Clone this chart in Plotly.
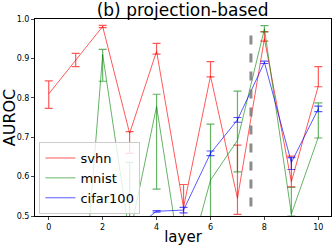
import plotly.graph_objects as go

layers = [0, 1, 2, 3, 4, 5, 6, 7, 8, 9, 10]

svhn = [0.810, 0.896, 0.981, 0.710, 0.918, 0.522, 0.855, 0.545, 0.950, 0.587, 0.830]
svhn_plus = [0.033, 0.017, 0.003, 0.004, 0.020, 0.058, 0.037, 0.135, 0.018, 0.065, 0.049]
svhn_minus = [0.037, 0.017, 0.003, 0.051, 0.007, 0.030, 0.002, 0.041, 0.006, 0.013, 0.002]

mnist = [0.300, 0.050, 0.910, 0.450, 0.778, 0.340, 0.591, 0.692, 0.975, 0.505, 0.700]
mnist_plus = [0.030, 0.030, 0.013, 0.186, 0.031, 0.030, 0.142, 0.125, 0.008, 0.068, 0.087]
mnist_minus = [0.030, 0.030, 0.068, 0.030, 0.210, 0.030, 0.120, 0.080, 0.008, 0.005, 0.002]

cifar100 = [0.450, 0.430, 0.470, 0.460, 0.512, 0.515, 0.659, 0.744, 0.890, 0.636, 0.772]
cifar_plus = [0.005, 0.005, 0.005, 0.005, 0.002, 0.007, 0.006, 0.006, 0.003, 0.012, 0.007]
cifar_minus = [0.005, 0.005, 0.005, 0.005, 0.002, 0.007, 0.006, 0.006, 0.003, 0.018, 0.007]

series = [
    ("svhn", svhn, svhn_plus, svhn_minus, "rgba(255,0,0,0.65)"),
    ("mnist", mnist, mnist_plus, mnist_minus, "rgba(0,128,0,0.6)"),
    ("cifar100", cifar100, cifar_plus, cifar_minus, "rgba(0,0,255,0.65)"),
]

split_x = [7.5, 7.5]
split_y = [0.524, 0.974]

fig = go.Figure()
for name, vals, ep, em, col in series:
    fig.add_trace(go.Scatter(
        x=layers, y=vals, mode="lines", name=name,
        line=dict(color=col, width=1),
        error_y=dict(type="data", symmetric=False, array=ep, arrayminus=em,
                     color=col, thickness=1.2, width=4),
    ))

fig.add_trace(go.Scatter(
    x=split_x, y=split_y, mode="lines", showlegend=False,
    line=dict(color="rgba(128,128,128,0.9)", width=3, dash="dash"),
))

fig.update_layout(
    width=332, height=246,
    margin=dict(l=35, r=1, t=19, b=30),
    paper_bgcolor="white", plot_bgcolor="white",
    font=dict(family="DejaVu Sans", color="black"),
    title=dict(text="(b) projection-based", x=0.55, xanchor="center",
               yref="container", y=0.96, yanchor="middle", font=dict(size=17)),
    showlegend=True,
    legend=dict(x=0.015, y=0.01, xanchor="left", yanchor="bottom",
                bgcolor="rgba(255,255,255,0.8)", bordercolor="#cccccc",
                borderwidth=1, font=dict(size=13),
                tracegroupgap=0, itemwidth=30),
)
fig.update_xaxes(
    range=[-0.51, 10.47], tickvals=[0, 2, 4, 6, 8, 10],
    showgrid=False, zeroline=False, showline=True, linecolor="black",
    linewidth=1, mirror=True, ticks="outside", ticklen=3,
    tickfont=dict(size=8),
    title=dict(text="layer", font=dict(size=15), standoff=2),
)
fig.update_yaxes(
    range=[0.5, 1.0], tickvals=[0.5, 0.6, 0.7, 0.8, 0.9, 1.0],
    tickformat=".1f",
    showgrid=False, zeroline=False, showline=True, linecolor="black",
    linewidth=1, mirror=True, ticks="outside", ticklen=3,
    tickfont=dict(size=8),
    title=dict(text="AUROC", font=dict(size=16), standoff=2),
)

fig.write_html("out.html", config={"displayModeBar": False},
               post_script="document.body.style.margin='0';document.body.style.overflow='hidden';")
